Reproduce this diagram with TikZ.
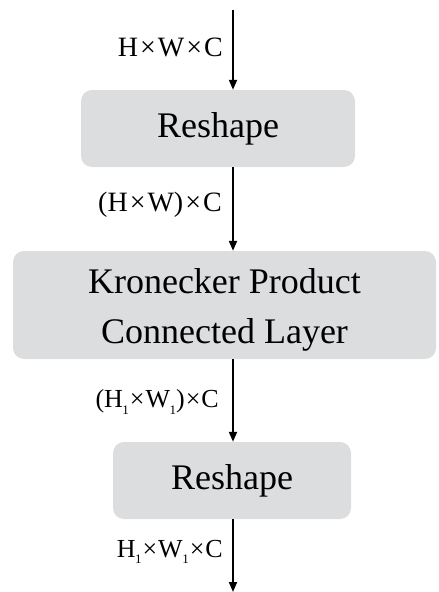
\documentclass[tikz,border=0pt]{standalone}
\usepackage{fontspec}
\setmainfont{Liberation Serif}
\usetikzlibrary{positioning,arrows.meta}
\definecolor{boxgray}{RGB}{220,221,223}
\newcommand{\by}{\kern2pt×\kern2pt}
\newcommand{\byy}{\kern1pt×\kern1pt}
\newcommand{\one}{\kern-0.5pt\raisebox{-0.25em}{\fontsize{13}{13}\selectfont 1}}

\begin{document}
\begin{tikzpicture}[x=1pt,y=-1pt,
  layerbox/.style={fill=boxgray,rounded corners=11pt,inner sep=0pt,
    font=\fontsize{36}{50}\selectfont,align=center},
  dimlabel/.style={anchor=east,inner sep=0pt,font=\fontsize{28}{30}\selectfont},
  flow/.style={line width=1.9pt,-{Triangle[length=10pt,width=8pt]}}]
\useasboundingbox (0,0) rectangle (439,592);
\node[layerbox,minimum width=274pt,minimum height=77pt] (reshapeA) at (218,128.5) {Reshape};
\node[layerbox,minimum width=423pt,minimum height=108pt] (kpcl) at (224.5,305) {\rule{0pt}{35pt}Kronecker Product\\Connected Layer};
\node[layerbox,minimum width=238pt,minimum height=77pt] (reshapeB) at (232,480.5) {Reshape};
\coordinate (in) at (233,10);
\coordinate (out) at (233,592);
% connectors
\draw[flow] (in) -- (in |- reshapeA.north);
\draw[flow] (in |- reshapeA.south) -- (in |- kpcl.north);
\draw[flow] (in |- kpcl.south) -- (in |- reshapeB.north);
\draw[flow] (in |- reshapeB.south) -- (out);
% sizes
\node[dimlabel] (dimA) at (223,47) {H\by W\by C};
\node[dimlabel] (dimB) at (222,205) {(H\by W)\by C};
\node[dimlabel,font=\fontsize{26}{30}\selectfont] (dimC) at (219,402) {(H\one\byy W\one)\byy C};
\node[dimlabel,font=\fontsize{26}{30}\selectfont] (dimD) at (223,552) {H\one\byy W\one\byy C};
\end{tikzpicture}
\end{document}
